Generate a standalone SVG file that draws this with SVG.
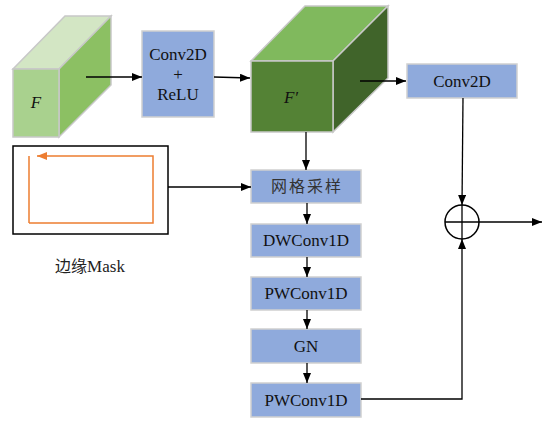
<svg xmlns="http://www.w3.org/2000/svg" width="553" height="422" viewBox="0 0 553 422">
<defs>
<marker id="ah" markerWidth="10" markerHeight="8" refX="10" refY="4" orient="auto" markerUnits="userSpaceOnUse">
<path d="M0,0 L10,4 L0,8 Z" fill="#000"/>
</marker>
<marker id="oh" markerWidth="10" markerHeight="8" refX="10" refY="4" orient="auto" markerUnits="userSpaceOnUse">
<path d="M0,0 L10,4 L0,8 Z" fill="#ed7d31"/>
</marker>
</defs>
<style>
.box{fill:#8faadc;stroke:#d0d0d0;stroke-width:1.5}
.t{font-family:"Liberation Serif","Times New Roman","DejaVu Serif",serif;font-size:17px;fill:#111;text-anchor:middle}
.cn{font-family:"Noto Sans CJK SC",sans-serif;font-size:16px;fill:#333;text-anchor:middle;letter-spacing:2px}
.lbl{font-family:"Noto Sans CJK SC",sans-serif;font-size:16px;fill:#222;text-anchor:middle}
.ser{font-family:"Liberation Serif","Times New Roman","DejaVu Serif",serif;font-size:17px}
.c{stroke:#000;stroke-width:1.3;fill:none}
.edge{stroke:#c8c8c8;stroke-width:1.5}
</style>
<rect width="553" height="422" fill="#fff"/>
<g id="F">
<polygon class="edge" points="13,69 65,16 111,16 59,69" fill="#d3e6c4"/>
<polygon class="edge" points="59,69 111,16 111,85 59,137" fill="#8cc063"/>
<rect class="edge" x="13" y="69" width="46" height="68" fill="#a9d18e"/>
<text x="36" y="108" class="t" font-style="italic">F</text>
</g>
<g id="conv_relu">
<rect class="box" x="142" y="31" width="72" height="86"/>
<text class="t" x="178" y="60">Conv2D</text>
<text class="t" x="178" y="80">+</text>
<text class="t" x="178" y="100">ReLU</text>
</g>
<g id="Fp">
<polygon class="edge" points="251,61 305,6 388,6 333,61" fill="#80b95d"/>
<polygon class="edge" points="333,61 388,6 388,78 333,132" fill="#40642a"/>
<rect class="edge" x="251" y="61" width="82" height="71" fill="#548235"/>
<text x="291" y="103" class="t" font-style="italic">F′</text>
</g>
<g id="conv2d">
<rect class="box" x="407" y="64" width="110" height="34"/>
<text class="t" x="462" y="87">Conv2D</text>
</g>
<g id="mask">
<rect x="13" y="146" width="155" height="88" fill="#fff" stroke="#000" stroke-width="1.5"/>
<path d="M29,223 L29,156 M29,223 L153,223 L153,156 L37,156" fill="none" stroke="#ed7d31" stroke-width="1.5" marker-end="url(#oh)"/>
<text class="lbl" x="90" y="272">边缘<tspan class="ser">Mask</tspan></text>
</g>
<g id="grid">
<rect class="box" x="251" y="170" width="110" height="33"/>
<text class="cn" x="307" y="192">网格采样</text>
</g>
<g id="dw">
<rect class="box" x="251" y="224" width="110" height="33"/>
<text class="t" x="306" y="246">DWConv1D</text>
</g>
<g id="pw1">
<rect class="box" x="251" y="277" width="110" height="33"/>
<text class="t" x="306" y="299">PWConv1D</text>
</g>
<g id="gn">
<rect class="box" x="251" y="329" width="110" height="34"/>
<text class="t" x="306" y="352">GN</text>
</g>
<g id="pw2">
<rect class="box" x="251" y="383" width="110" height="34"/>
<text class="t" x="306" y="406">PWConv1D</text>
</g>
<g id="add">
<circle cx="462" cy="222" r="17" fill="#fff" stroke="#000" stroke-width="1.5"/>
<line x1="445" y1="222" x2="479" y2="222" stroke="#000" stroke-width="1.3"/>
<line x1="462" y1="205" x2="462" y2="239" stroke="#000" stroke-width="1.3"/>
</g>
<g id="connectors">
<line class="c" x1="86" y1="77" x2="142" y2="77" marker-end="url(#ah)"/>
<line class="c" x1="214" y1="77" x2="250" y2="78" marker-end="url(#ah)"/>
<line class="c" x1="360" y1="81" x2="406" y2="81" marker-end="url(#ah)"/>
<line class="c" x1="463" y1="98" x2="462" y2="205" marker-end="url(#ah)"/>
<line class="c" x1="479" y1="222" x2="542" y2="222" marker-end="url(#ah)"/>
<line class="c" x1="306" y1="132" x2="306" y2="170" marker-end="url(#ah)"/>
<line class="c" x1="168" y1="187" x2="251" y2="187" marker-end="url(#ah)"/>
<line class="c" x1="307" y1="203" x2="307" y2="224" marker-end="url(#ah)"/>
<line class="c" x1="307" y1="257" x2="307" y2="277" marker-end="url(#ah)"/>
<line class="c" x1="307" y1="310" x2="307" y2="329" marker-end="url(#ah)"/>
<line class="c" x1="307" y1="363" x2="307" y2="383" marker-end="url(#ah)"/>
<polyline class="c" points="361,399 462,399 462,239" marker-end="url(#ah)"/>
</g>
</svg>
